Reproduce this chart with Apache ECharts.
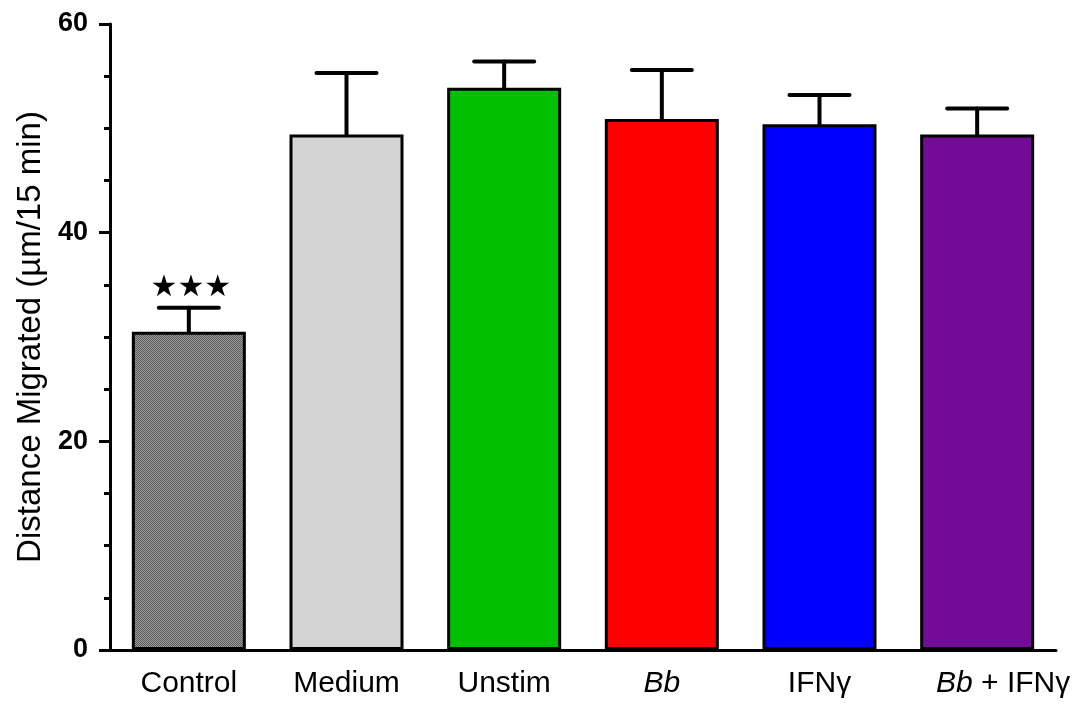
<!DOCTYPE html>
<html>
<head>
<meta charset="utf-8">
<script src="https://cdn.jsdelivr.net/npm/echarts@6/dist/echarts.min.js"></script>
<style>
  html, body { margin: 0; padding: 0; background: #fff; }
  #chart { width: 1078px; height: 709px; }
</style>
</head>
<body>
<div id="chart"></div>
<script>
const categories = ['Control', 'Medium', 'Unstim', 'Bb', 'IFNγ', 'Bb + IFNγ'];
const means = [30.5, 49.4, 53.9, 50.9, 50.4, 49.4];
const upper = [32.8, 55.3, 56.4, 55.6, 53.2, 51.9];
const stars = ['★★★', '', '', '', '', ''];
const colors = ['#7f7f7f', '#d4d4d4', '#00c000', '#ff0000', '#0000ff', '#730b97'];

// dotted grey fill for the control bar
function dotPattern() {
    const c = document.createElement('canvas');
    c.width = 2; c.height = 2;
    const ctx = c.getContext('2d');
    ctx.fillStyle = '#9a9a9a';
    ctx.fillRect(0, 0, 2, 2);
    ctx.fillStyle = '#5e5e5e';
    ctx.fillRect(0, 0, 1, 1);
    ctx.fillRect(1, 1, 1, 1);
    return { image: c, repeat: 'repeat' };
}

const barData = means.map((v, i) => ({
    value: v,
    itemStyle: { color: i === 0 ? dotPattern() : colors[i] }
}));
const errData = means.map((v, i) => [i, v, upper[i]]);

const font = 'Liberation Sans, Arial';
const chart = echarts.init(document.getElementById('chart'));
const option = {
    animation: false,
    grid: { left: 110, right: 22, top: 24, bottom: 59 },
    xAxis: {
        type: 'category',
        data: categories,
        axisLine: { lineStyle: { color: '#000', width: 3 } },
        axisTick: { show: false },
        axisLabel: {
            interval: 0,
            margin: 19,
            fontFamily: font,
            fontSize: 30,
            color: '#000',
            formatter: function (v) {
                if (v === 'Bb') return '{i|Bb}';
                // last label sits a little right of its bar in the original
                if (v === 'Bb + IFNγ') return '{ip|Bb}{n| + IFNγ}';
                return '{n|' + v + '}';
            },
            rich: {
                i: { fontStyle: 'italic', fontFamily: font, fontSize: 30, color: '#000' },
                ip: { fontStyle: 'italic', fontFamily: font, fontSize: 30, color: '#000', padding: [0, 0, 0, 52] },
                n: { fontFamily: font, fontSize: 30, color: '#000' }
            }
        }
    },
    yAxis: {
        type: 'value',
        min: 0,
        max: 60,
        interval: 20,
        name: 'Distance Migrated (µm/15 min)',
        nameLocation: 'middle',
        nameGap: 62,
        nameTextStyle: { fontFamily: font, fontSize: 33, color: '#000' },
        axisLine: { show: true, lineStyle: { color: '#000', width: 3 } },
        axisTick: { show: true, length: 11, lineStyle: { color: '#000', width: 3 } },
        minorTick: { show: true, splitNumber: 4, length: 6, lineStyle: { color: '#000', width: 3 } },
        splitLine: { show: false },
        axisLabel: {
            margin: 22,
            fontFamily: font,
            fontSize: 27,
            fontWeight: 'bold',
            color: '#000'
        }
    },
    series: [{
        type: 'bar',
        data: barData,
        barWidth: 114,
        itemStyle: { borderColor: '#000', borderWidth: 3 },
        z: 2
    }, {
        type: 'custom',
        data: errData,
        z: 3,
        renderItem: function (params, api) {
            const i = api.value(0);
            const base = api.coord([i, api.value(1)]);
            const top = api.coord([i, api.value(2)]);
            const half = 30;
            const style = { stroke: '#000', lineWidth: 4, lineCap: 'round' };
            const children = [
                { type: 'line', shape: { x1: base[0], y1: base[1], x2: top[0], y2: top[1] }, style: style },
                { type: 'line', shape: { x1: top[0] - half, y1: top[1], x2: top[0] + half, y2: top[1] }, style: style }
            ];
            if (stars[params.dataIndex]) {
                children.push({
                    type: 'text',
                    style: {
                        x: top[0] + 2, y: top[1] - 5,
                        text: stars[params.dataIndex],
                        fill: '#000',
                        font: '30px "DejaVu Sans"',
                        align: 'center',
                        verticalAlign: 'bottom'
                    }
                });
            }
            return { type: 'group', children: children };
        }
    }]
};
chart.setOption(option);
</script>
</body>
</html>
